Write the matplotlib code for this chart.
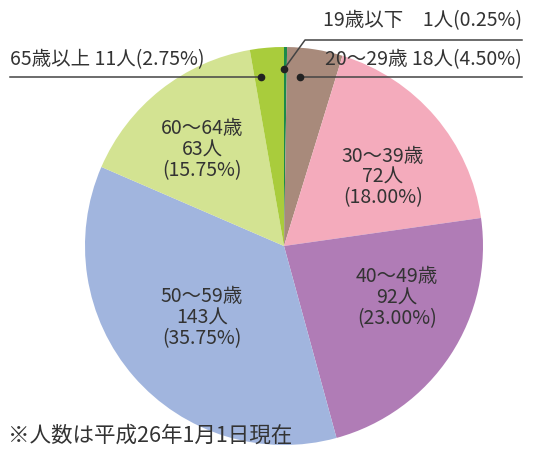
import matplotlib.pyplot as plt
import numpy as np

plt.rcParams['font.family'] = ['Noto Sans CJK JP', 'DejaVu Sans']

groups = ["19歳以下", "20～29歳", "30～39歳", "40～49歳", "50～59歳", "60～64歳", "65歳以上"]
counts = [1, 18, 72, 92, 143, 63, 11]
shares = [0.25, 4.50, 18.00, 23.00, 35.75, 15.75, 2.75]
colors = ["#1b8a4a", "#a88a7b", "#f4abbc", "#b07cb6", "#a1b5de", "#d3e392", "#a9cc3c"]

W, H = 538, 451
fig = plt.figure(figsize=(W / 100, H / 100), dpi=100)
ax = fig.add_axes([0, 0, 1, 1])

cx, cy, r = 284, 246, 199
# y axis is inverted (pixel coords), so -90 is the top and counterclock looks clockwise
wedges, _ = ax.pie(counts, colors=colors, startangle=-90, counterclock=True,
                   center=(cx, cy), radius=r, frame=True,
                   wedgeprops=dict(linewidth=0))
ax.set_xlim(0, W)
ax.set_ylim(H, 0)
ax.set_aspect("equal")
ax.axis("off")

tc = "#333333"
fs = 14

# inner labels
inner = {2: (383, 177), 3: (397, 298), 4: (202, 318), 5: (202, 150)}
for i, (x, y) in inner.items():
    ax.text(x, y, f"{groups[i]}\n{counts[i]}人\n({shares[i]:.2f}%)", ha="center", va="center",
            fontsize=fs, color=tc, linespacing=1.0)

lc = "#444444"
# 19歳以下
ax.plot([284, 305, 522], [69, 40, 40], color=lc, lw=1.1)
ax.plot(284, 69, "o", color="#222222", ms=4.5)
ax.text(522, 21, f"{groups[0]}　{counts[0]}人({shares[0]:.2f}%)", ha="right", va="center",
        fontsize=fs, color=tc)
# 20～29歳
ax.plot([300, 522], [77, 77], color=lc, lw=1.1)
ax.plot(300, 77, "o", color="#222222", ms=4.5)
ax.text(522, 60, f"{groups[1]} {counts[1]}人({shares[1]:.2f}%)", ha="right", va="center",
        fontsize=fs, color=tc)
# 65歳以上
ax.plot([10, 261], [77, 77], color=lc, lw=1.1)
ax.plot(261, 77, "o", color="#222222", ms=4.5)
ax.text(10, 60, f"{groups[6]} {counts[6]}人({shares[6]:.2f}%)", ha="left", va="center",
        fontsize=fs, color=tc)

ax.text(8, 436, "※人数は平成26年1月1日現在", ha="left", va="center", fontsize=15.5, color=tc)

fig.savefig("out.png", dpi=100)
